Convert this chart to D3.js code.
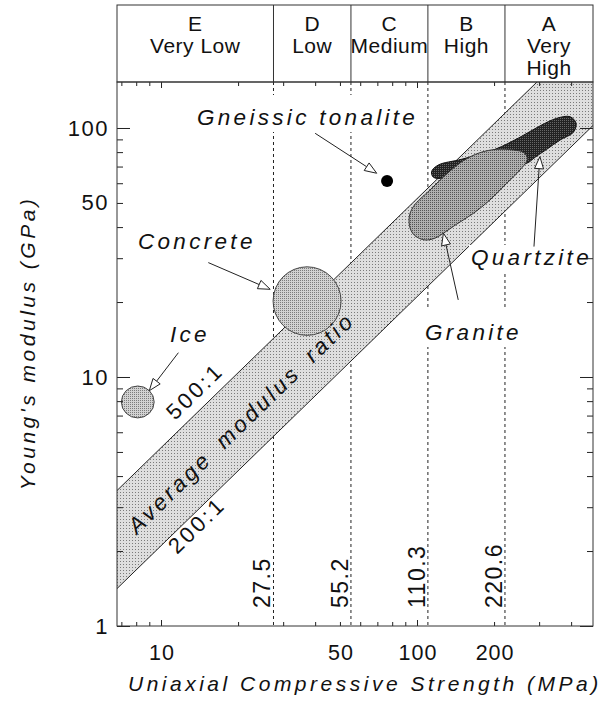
<!DOCTYPE html>
<html>
<head>
<meta charset="utf-8">
<script src="https://cdn.jsdelivr.net/npm/d3@7"></script>
<style>
body { margin: 0; background: #fff; }
svg text { font-family: "Liberation Sans", Arial, Helvetica, sans-serif; fill: #111; }
</style>
</head>
<body>
<div id="chart"></div>
<script>
// strength classes (UCS, MPa)
var classBounds = [27.5, 55.2, 110.3, 220.6];
var boundLabels = ["27.5", "55.2", "110.3", "220.6"];
var classLetters = ["E", "D", "C", "B", "A"];
var classNames = [["Very Low"], ["Low"], ["Medium"], ["High"], ["Very", "High"]];

var xTickLabels = [10, 50, 100, 200];
var yTickLabels = [1, 10, 50, 100];

// modulus ratio band, E / UCS (as drawn)
var bandRatios = [520, 210];
var bandLabels = ["500:1", "200:1"];

// material fields: UCS range (MPa), E range (GPa)
var iceUcs = [7.0, 9.4], iceE = [6.85, 9.2];
var concreteUcs = [27.4, 50.5], concreteE = [14.7, 27.7];
var gneissPoint = [76.4, 61.3];

var graniteUcs = [93.3, 96.7, 112.4, 130.6, 151.7, 176.2, 204.8, 237.8, 261.8, 269.8, 252.5, 223.9, 192.8, 166.0, 142.9, 126.8, 117.5, 107.4, 98.2, 94.0];
var graniteE   = [44.0, 48.3, 56.4, 65.4, 73.9, 79.6, 82.1, 81.6, 79.6, 74.9, 67.8, 59.9, 51.4, 45.4, 41.1, 37.8, 36.1, 35.5, 36.9, 39.6];

var quartziteUcs = [114.0, 121.1, 149.6, 201.8, 252.5, 302, 351.6, 396.3, 418.3, 408.1, 362.2, 321.2, 289.3, 268.5, 176.2, 126.8, 115.9];
var quartziteE   = [66.8, 71.0, 74.9, 82.1, 91.8, 101.9, 109.4, 111.0, 104.5, 96.1, 89.5, 82.1, 76.3, 72.2, 66.8, 62.8, 63.4];

// annotation arrows, [UCS, E]
var labelNames = ["Ice", "Concrete", "Gneissic tonalite", "Quartzite", "Granite"];
var arrowTail = [[11.69, 12.52], [15.3, 28.8], [40.0, 95.2], [286.4, 33.4], [144.9, 20.4]];
var arrowTip  = [[9.0, 8.81], [26.7, 22.5], [69.6, 65.8], [302, 76.7], [126.8, 37.8]];

var width = 603, height = 709;
var plotL = 117, plotR = 593, plotT = 82, plotB = 626, headT = 5;

var svg = d3.select("#chart").append("svg")
    .attr("width", width)
    .attr("height", height);

var x = d3.scaleLog().domain([6.73, 487]).range([plotL, plotR]);
var y = d3.scaleLog().domain([1, 153]).range([plotB, plotT]);

var defs = svg.append("defs");
defs.append("clipPath").attr("id", "plotClip")
    .append("rect").attr("x", plotL).attr("y", plotT)
    .attr("width", plotR - plotL).attr("height", plotB - plotT);

function stipple(id, bg, fg, size) {
    var p = defs.append("pattern").attr("id", id)
        .attr("width", size).attr("height", size)
        .attr("patternUnits", "userSpaceOnUse");
    p.append("rect").attr("width", size).attr("height", size).attr("fill", bg);
    p.append("rect").attr("width", 1).attr("height", 1).attr("fill", fg);
}
stipple("bandFill", "#dedede", "#7a7a7a", 3);
stipple("circleFill", "#d2d2d2", "#7c7c7c", 2);
stipple("graniteFill", "#b0b0b0", "#555", 2);
stipple("quartziteFill", "#222", "#666", 2);

var plot = svg.append("g").attr("clip-path", "url(#plotClip)");

// class boundaries
plot.selectAll(".bound")
    .data(classBounds)
    .enter().append("line")
    .attr("x1", function (d) { return x(d); })
    .attr("x2", function (d) { return x(d); })
    .attr("y1", plotT).attr("y2", plotB)
    .attr("stroke", "#222").attr("stroke-width", 1)
    .attr("stroke-dasharray", "3,3");

// ratio band
var ends = x.domain();
var bandPts = [
    [ends[0], bandRatios[0] * ends[0] / 1000],
    [ends[1], bandRatios[0] * ends[1] / 1000],
    [ends[1], bandRatios[1] * ends[1] / 1000],
    [ends[0], bandRatios[1] * ends[0] / 1000]
];
plot.append("path")
    .attr("d", "M" + bandPts.map(function (p) { return x(p[0]) + "," + y(p[1]); }).join("L") + "Z")
    .attr("fill", "url(#bandFill)");
bandRatios.forEach(function (r) {
    plot.append("line")
        .attr("x1", x(ends[0])).attr("y1", y(r * ends[0] / 1000))
        .attr("x2", x(ends[1])).attr("y2", y(r * ends[1] / 1000))
        .attr("stroke", "#222").attr("stroke-width", 1);
});

// circles for ice and concrete
[[iceUcs, iceE], [concreteUcs, concreteE]].forEach(function (f) {
    plot.append("ellipse")
        .attr("cx", (x(f[0][0]) + x(f[0][1])) / 2)
        .attr("cy", (y(f[1][0]) + y(f[1][1])) / 2)
        .attr("rx", (x(f[0][1]) - x(f[0][0])) / 2)
        .attr("ry", (y(f[1][0]) - y(f[1][1])) / 2)
        .attr("fill", "url(#circleFill)")
        .attr("stroke", "#444").attr("stroke-width", 1);
});

plot.append("circle")
    .attr("cx", x(gneissPoint[0])).attr("cy", y(gneissPoint[1]))
    .attr("r", 6).attr("fill", "#000");

var blob = d3.line()
    .x(function (d) { return x(d[0]); })
    .y(function (d) { return y(d[1]); })
    .curve(d3.curveCatmullRomClosed.alpha(0.5));

plot.append("path")
    .attr("d", blob(d3.zip(quartziteUcs, quartziteE)))
    .attr("fill", "url(#quartziteFill)")
    .attr("stroke", "#111").attr("stroke-width", 1);
plot.append("path")
    .attr("d", blob(d3.zip(graniteUcs, graniteE)))
    .attr("fill", "url(#graniteFill)")
    .attr("stroke", "#333").attr("stroke-width", 1);

// band texts
function rotText(txt, px, py, italic, size, ls) {
    return svg.append("text")
        .attr("transform", "translate(" + px + "," + py + ") rotate(-44.2)")
        .style("font-size", size + "px")
        .style("font-style", italic ? "italic" : "normal")
        .style("letter-spacing", ls + "px")
        .text(txt);
}
rotText("Average modulus ratio", 137, 535, true, 22.5, 3.3).style("word-spacing", "6px");
rotText(bandLabels[0], 175, 421, false, 22, 3);
rotText(bandLabels[1], 177, 555, false, 22, 3);

// boundary values
svg.selectAll(".bl")
    .data(classBounds)
    .enter().append("text")
    .attr("transform", function (d) { return "translate(" + (x(d) - 3) + ",608) rotate(-90)"; })
    .style("font-size", "23px")
    .style("letter-spacing", "1.5px")
    .text(function (d, i) { return boundLabels[i]; });

// labels with arrows
var labelPos = [[170, 342], [138, 249], [197, 125], [471, 265], [425, 340]];
var labelPad = [1, 1, 10, 0, 10];
labelNames.forEach(function (name, i) {
    var t = svg.append("text")
        .attr("x", labelPos[i][0]).attr("y", labelPos[i][1])
        .style("font-size", "22.5px")
        .style("font-style", "italic")
        .style("letter-spacing", "3.3px")
        .text(name);
    var b = t.node().getBBox();
    svg.insert("rect", function () { return t.node(); })
        .attr("x", b.x - 2).attr("y", b.y - labelPad[i])
        .attr("width", b.width + 2).attr("height", b.height + labelPad[i] + 2)
        .attr("fill", "#fff");
});

arrowTail.forEach(function (a, i) {
    var x0 = x(a[0]), y0 = y(a[1]);
    var x1 = x(arrowTip[i][0]), y1 = y(arrowTip[i][1]);
    var len = Math.hypot(x1 - x0, y1 - y0);
    var ux = (x1 - x0) / len, uy = (y1 - y0) / len;
    var L = 12, W = 4.5;
    var bx = x1 - ux * L, by = y1 - uy * L;
    svg.append("line")
        .attr("x1", x0).attr("y1", y0).attr("x2", bx).attr("y2", by)
        .attr("stroke", "#222").attr("stroke-width", 1);
    svg.append("path")
        .attr("d", "M" + x1 + "," + y1 +
            "L" + (bx - uy * W) + "," + (by + ux * W) +
            "L" + (bx + uy * W) + "," + (by - ux * W) + "Z")
        .attr("fill", "#fff").attr("stroke", "#222").attr("stroke-width", 1);
});

// ticks on all four sides, pointing inward
var minorX = [7, 8, 9, 20, 30, 40, 50, 60, 70, 80, 90, 200, 300, 400];
var majorX = [10, 100];
var minorY = [2, 3, 4, 5, 6, 7, 8, 9, 20, 30, 40, 50, 60, 70, 80, 90];
var majorY = [1, 10, 100];

function ticks(axis, tx, ty) {
    var g = svg.append("g").attr("transform", "translate(" + tx + "," + ty + ")").call(axis);
    g.select(".domain").remove();
    g.selectAll("line").attr("stroke", "#222");
    g.attr("font-family", null).attr("font-size", null);
    return g;
}
ticks(d3.axisBottom(x).tickValues(minorX).tickSize(-4).tickFormat(""), 0, plotB);
ticks(d3.axisBottom(x).tickValues(majorX).tickSize(-6).tickFormat(""), 0, plotB);
ticks(d3.axisTop(x).tickValues(minorX).tickSize(-4).tickFormat(""), 0, plotT);
ticks(d3.axisTop(x).tickValues(majorX).tickSize(-6).tickFormat(""), 0, plotT);
ticks(d3.axisLeft(y).tickValues(minorY).tickSize(-6).tickFormat(""), plotL, 0);
ticks(d3.axisLeft(y).tickValues(majorY).tickSize(-13).tickFormat(""), plotL, 0);
ticks(d3.axisRight(y).tickValues(minorY).tickSize(-6).tickFormat(""), plotR, 0);
ticks(d3.axisRight(y).tickValues(majorY).tickSize(-13).tickFormat(""), plotR, 0);

var xl = ticks(d3.axisBottom(x).tickValues(xTickLabels).tickSize(0).tickPadding(19).tickFormat(d3.format("d")), 0, plotB);
xl.selectAll("text").style("font-size", "21.5px").style("letter-spacing", "1px")
    .attr("dx", "0.5px").attr("fill", "#111");
var yl = ticks(d3.axisLeft(y).tickValues(yTickLabels).tickSize(0).tickPadding(8).tickFormat(d3.format("d")), plotL, 0);
yl.selectAll("text").style("font-size", "22px").style("letter-spacing", "1.5px")
    .attr("fill", "#111");

// plot frame
svg.append("rect")
    .attr("x", plotL).attr("y", plotT)
    .attr("width", plotR - plotL).attr("height", plotB - plotT)
    .attr("fill", "none").attr("stroke", "#333").attr("stroke-width", 1);

// class header
svg.append("rect")
    .attr("x", plotL).attr("y", headT)
    .attr("width", plotR - plotL).attr("height", plotT - headT)
    .attr("fill", "none").attr("stroke", "#333").attr("stroke-width", 1);
svg.selectAll(".div")
    .data(classBounds)
    .enter().append("line")
    .attr("x1", function (d) { return x(d); })
    .attr("x2", function (d) { return x(d); })
    .attr("y1", headT).attr("y2", plotT)
    .attr("stroke", "#333").attr("stroke-width", 1);

var cellEdges = [x.domain()[0]].concat(classBounds, [x.domain()[1]]);
classLetters.forEach(function (letter, i) {
    var cx = (x(cellEdges[i]) + x(cellEdges[i + 1])) / 2;
    var lines = [letter].concat(classNames[i]);
    lines.forEach(function (s, j) {
        svg.append("text")
            .attr("x", cx).attr("y", 31 + j * 22)
            .attr("text-anchor", "middle")
            .style("font-size", "21px")
            .style("letter-spacing", "0.5px")
            .text(s);
    });
});

// axis titles
svg.append("text")
    .attr("x", 128).attr("y", 691)
    .style("font-size", "21px").style("font-style", "italic")
    .style("letter-spacing", "3.5px")
    .text("Uniaxial Compressive Strength (MPa)");
svg.append("text")
    .attr("transform", "translate(35,343) rotate(-90)")
    .attr("text-anchor", "middle")
    .style("font-size", "21px").style("font-style", "italic")
    .style("letter-spacing", "3.5px")
    .text("Young's modulus (GPa)");
</script>
</body>
</html>
